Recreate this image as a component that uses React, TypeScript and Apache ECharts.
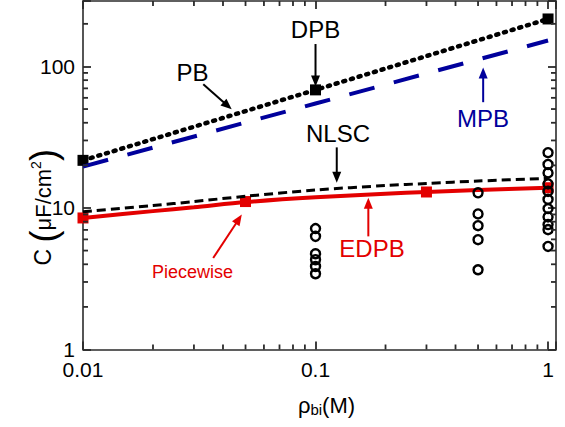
import React, { useEffect, useRef } from "react";
import * as echarts from "echarts";

// ---- data ----
const pbX = [0.01, 0.1, 1];
const pbY = [21.7, 68.3, 216.5];
const dpbX = [0.01, 0.1, 1];
const dpbY = [21.7, 68.3, 216.5];
const mpbX = [0.01, 0.1, 1];
const mpbY = [19.6, 54.7, 152.4];
const nlscX = [0.01, 0.02, 0.03, 0.05, 0.1, 0.2, 0.3, 0.5, 1];
const nlscY = [9.4, 10.4, 11.1, 12.1, 13.4, 14.4, 14.9, 15.5, 16.2];
const edpbX = [0.01, 0.02, 0.03, 0.05, 0.1, 0.2, 0.3, 0.5, 1];
const edpbY = [8.5, 9.5, 10.1, 11.0, 11.9, 12.6, 12.97, 13.4, 13.9];
const pieceX = [0.01, 0.05, 0.3, 1];
const pieceY = [8.5, 11.1, 12.97, 13.9];
const simX = [
  0.1, 0.1, 0.1, 0.1, 0.1, 0.1,
  0.5, 0.5, 0.5, 0.5, 0.5,
  1, 1, 1, 1, 1, 1, 1, 1, 1, 1, 1,
];
const simY = [
  7.15, 6.3, 4.75, 4.31, 3.86, 3.43,
  12.8, 9.08, 7.5, 5.97, 3.66,
  24.6, 20.3, 17.7, 14.8, 13.1, 11.5, 9.9, 8.65, 7.63, 7.03, 5.35,
];
const xMinorTicks = [0.02, 0.03, 0.04, 0.05, 0.06, 0.07, 0.08, 0.09, 0.2, 0.3, 0.4, 0.5, 0.6, 0.7, 0.8, 0.9];
const yMinorTicks = [2, 3, 4, 5, 6, 7, 8, 9, 20, 30, 40, 50, 60, 70, 80, 90, 200];

// annotations: label, label anchor, arrow tail, arrow tip (data coordinates)
const annLabels = ["DPB", "PB", "MPB", "NLSC", "EDPB", "Piecewise"];
const annTextX = [0.1, 0.0296, 0.525, 0.125, 0.175, 0.0296];
const annTextY = [182, 90.6, 43, 33.7, 5.16, 3.54];
const annFromX = [0.1, 0.0329, 0.526, 0.1234, 0.1687, 0.0363];
const annFromY = [144, 74.9, 55.9, 26.8, 6.3, 4.43];
const annToX = [0.1, 0.0436, 0.526, 0.1234, 0.1687, 0.0482];
const annToY = [72.2, 49.8, 98.4, 15.1, 11.8, 8.98];

const Y_TITLE = "{c|C }{p|(}{m|μF/cm}{s|2}{p|)}";
const X_TITLE = "{r|ρ}{b|bi}{r|(M)}";

const FONT = '"Liberation Sans", Arial, Helvetica, sans-serif';
const RED = "#e30000";
const BLUE = "#00009c";
const AXIS = "#2b2b2b";
const annColors: Record<string, string> = {
  DPB: "#000",
  PB: "#000",
  MPB: BLUE,
  NLSC: "#000",
  EDPB: RED,
  Piecewise: RED,
};

const zip = (xs: number[], ys: number[]) => xs.map((x, i) => [x, ys[i]]);

const fmt = (v: number) => {
  const e = Math.log10(v);
  const re = Math.round(e);
  if (Math.abs(e - re) > 1e-6) return "";
  const r = Math.pow(10, re);
  return r >= 1 ? String(r) : r.toFixed(-re);
};

const XMIN = 0.01;
const XMAX = 1.082;
const YMIN = 1;
const YMAX = 290;

export default function App() {
  const ref = useRef<HTMLDivElement>(null);
  useEffect(() => {
    if (!ref.current) return;
    const chart = echarts.init(ref.current, undefined, { renderer: "svg" });

    const baseAxisLine = { show: true, lineStyle: { color: AXIS, width: 1.6 } };
    const baseTick = { show: true, inside: true, length: 8, lineStyle: { color: AXIS, width: 1.8 } };

    const option: any = {
      animation: false,
      backgroundColor: "#fff",
      grid: { left: 83, right: 9, top: 1, bottom: 77.5, containLabel: false, outerBoundsMode: "none" },
      xAxis: [
        {
          type: "log",
          logBase: 10,
          min: XMIN,
          max: XMAX,
          position: "bottom",
          axisLine: baseAxisLine,
          axisTick: baseTick,
          splitLine: { show: false },
          axisLabel: { formatter: fmt, fontSize: 21, lineHeight: 18, color: "#000", fontFamily: FONT, margin: 11 },
          name: X_TITLE,
          nameLocation: "middle",
          nameGap: 44,
          nameTextStyle: {
            padding: [0, 0, 0, 14],
            rich: {
              r: { fontSize: 22, fontFamily: FONT, color: "#000" },
              b: { fontSize: 15, fontFamily: FONT, color: "#000", verticalAlign: "bottom", padding: [8, 0, 0, 0] },
            },
          },
        },
        {
          type: "log",
          logBase: 10,
          min: XMIN,
          max: XMAX,
          position: "top",
          axisLine: baseAxisLine,
          axisTick: baseTick,
          splitLine: { show: false },
          axisLabel: { show: false },
        },
      ],
      yAxis: [
        {
          type: "log",
          logBase: 10,
          min: YMIN,
          max: YMAX,
          position: "left",
          axisLine: baseAxisLine,
          axisTick: baseTick,
          splitLine: { show: false },
          axisLabel: { formatter: fmt, fontSize: 21, lineHeight: 14, color: "#000", fontFamily: FONT, margin: 8 },
        },
        {
          type: "log",
          logBase: 10,
          min: YMIN,
          max: YMAX,
          position: "right",
          axisLine: baseAxisLine,
          axisTick: baseTick,
          splitLine: { show: false },
          axisLabel: { show: false },
        },
      ],
      series: [
        {
          name: "MPB",
          type: "line",
          data: zip(mpbX, mpbY),
          symbol: "none",
          lineStyle: { color: BLUE, width: 4, type: [26, 20] },
          silent: true,
        },
        {
          name: "PB",
          type: "line",
          data: zip(pbX, pbY),
          symbol: "none",
          lineStyle: { color: "#000", width: 4.5, type: [2, 6], cap: "round" },
          silent: true,
        },
        {
          name: "DPB",
          type: "scatter",
          data: zip(dpbX, dpbY),
          symbol: "rect",
          symbolSize: 11,
          itemStyle: { color: "#000", opacity: 1 },
          silent: true,
        },
        {
          name: "EDPB",
          type: "line",
          data: zip(edpbX, edpbY),
          symbol: "none",
          smooth: 0.3,
          lineStyle: { color: RED, width: 4 },
          silent: true,
        },
        {
          name: "NLSC",
          type: "line",
          data: zip(nlscX, nlscY),
          symbol: "none",
          smooth: 0.3,
          lineStyle: { color: "#000", width: 3, type: [9, 5] },
          silent: true,
        },
        {
          name: "Piecewise",
          type: "scatter",
          data: zip(pieceX, pieceY),
          symbol: "rect",
          symbolSize: 11,
          itemStyle: { color: RED, opacity: 1 },
          silent: true,
        },
        {
          name: "Simulation",
          type: "scatter",
          data: zip(simX, simY),
          symbol: "circle",
          symbolSize: 9,
          itemStyle: { color: "rgba(255,255,255,0)", borderColor: "#000", borderWidth: 2.4, opacity: 1 },
          silent: true,
          z: 3,
        },
        {
          name: "annotations",
          type: "custom",
          silent: true,
          clip: false,
          data: annLabels.map((_, i) => [annTextX[i], annTextY[i], annFromX[i], annFromY[i], annToX[i], annToY[i]]),
          encode: { x: [0, 2, 4], y: [1, 3, 5] },
          renderItem: (params: any, api: any) => {
            const i = params.dataIndex;
            const label = annLabels[i];
            const color = annColors[label];
            const t = api.coord([api.value(0), api.value(1)]);
            const a = api.coord([api.value(2), api.value(3)]);
            const b = api.coord([api.value(4), api.value(5)]);
            const dx = b[0] - a[0];
            const dy = b[1] - a[1];
            const len = Math.hypot(dx, dy) || 1;
            const ux = dx / len;
            const uy = dy / len;
            const hl = 11;
            const hw = 4.5;
            const base = [b[0] - ux * hl, b[1] - uy * hl];
            const l = [base[0] - uy * hw, base[1] + ux * hw];
            const r = [base[0] + uy * hw, base[1] - ux * hw];
            const fs = label === "Piecewise" ? 18 : 24;
            return {
              type: "group",
              children: [
                {
                  type: "text",
                  style: {
                    text: label,
                    x: t[0],
                    y: t[1],
                    align: "center",
                    verticalAlign: "middle",
                    fontSize: fs,
                    fontFamily: FONT,
                    fill: color,
                  },
                },
                {
                  type: "line",
                  shape: { x1: a[0], y1: a[1], x2: base[0] + ux * 1, y2: base[1] + uy * 1 },
                  style: { stroke: color, lineWidth: 2 },
                },
                {
                  type: "polygon",
                  shape: { points: [b, l, r] },
                  style: { fill: color },
                },
              ],
            };
          },
        },
      ],
    };
    chart.setOption(option);

    // minor ticks (inside, on all four sides), placed through the axes' own scales
    const conv = (q: any, v: number) => chart.convertToPixel(q, v) as unknown as number;
    const xL = conv({ xAxisIndex: 0 }, XMIN);
    const xR = conv({ xAxisIndex: 0 }, XMAX);
    const yB = conv({ yAxisIndex: 0 }, YMIN);
    const yT = conv({ yAxisIndex: 0 }, YMAX);
    const st = { stroke: AXIS, lineWidth: 1.8 };
    const g: any[] = [];
    xMinorTicks.forEach((v) => {
      const x = conv({ xAxisIndex: 0 }, v);
      g.push({ type: "line", silent: true, z: 10, shape: { x1: x, y1: yB, x2: x, y2: yB - 5 }, style: st });
      g.push({ type: "line", silent: true, z: 10, shape: { x1: x, y1: yT, x2: x, y2: yT + 5 }, style: st });
    });
    yMinorTicks.forEach((v) => {
      const y = conv({ yAxisIndex: 0 }, v);
      g.push({ type: "line", silent: true, z: 10, shape: { x1: xL, y1: y, x2: xL + 5, y2: y }, style: st });
      g.push({ type: "line", silent: true, z: 10, shape: { x1: xR, y1: y, x2: xR - 5, y2: y }, style: st });
    });
    // y-axis title, rotated, to the left of the tick labels
    g.push({
      type: "text",
      silent: true,
      x: xL - 40,
      y: (yB + yT) / 2 + 32,
      rotation: Math.PI / 2,
      style: {
        text: Y_TITLE,
        align: "center",
        verticalAlign: "middle",
        fill: "#000",
        rich: {
          c: { fontSize: 23, fontFamily: FONT, fill: "#000" },
          p: { fontSize: 36, fontFamily: FONT, fill: "#000" },
          m: { fontSize: 22, fontFamily: FONT, fill: "#000" },
          s: { fontSize: 14, fontFamily: FONT, fill: "#000", verticalAlign: "top", padding: [4, 0, 0, 0] },
        },
      },
    });
    chart.setOption({ graphic: g });

    return () => chart.dispose();
  }, []);

  return (
    <div
      ref={ref}
      style={{ position: "fixed", left: 0, top: 0, width: 565, height: 427, background: "#fff" }}
    />
  );
}
